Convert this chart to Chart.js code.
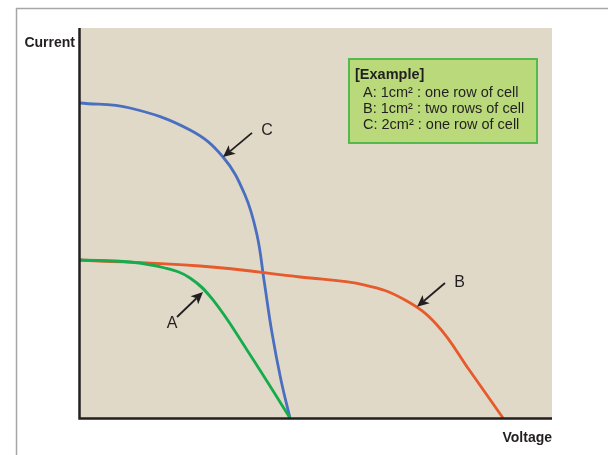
<!DOCTYPE html>
<html>
<head>
<meta charset="utf-8">
<script src="https://cdn.jsdelivr.net/npm/chart.js@4"></script>
<style>
  html, body { margin: 0; padding: 0; background: #ffffff; }
  #wrap { width: 608px; height: 455px; }
</style>
</head>
<body>
<div id="wrap"><canvas id="ivChart"></canvas></div>
<script>
// Curve data (voltage, current) in relative units 0..100
const curveA_x = [0, 10.59, 18.01, 23.31, 28.18, 35.38, 42.37, 44.49];
const curveA_y = [40.51, 40.00, 38.46, 35.90, 30.26, 17.44, 4.10, 0];

const curveB_x = [0, 25.42, 46.61, 60.38, 68.86, 75.64, 82.63, 89.62];
const curveB_y = [40.51, 38.97, 36.15, 34.10, 30.26, 23.85, 12.05, 0];

const curveC_x = [0, 10.59, 23.31, 30.30, 34.96, 37.50, 38.98, 40.68, 42.58, 44.49];
const curveC_y = [80.77, 79.49, 73.85, 66.92, 57.18, 46.92, 35.38, 21.79, 9.74, 0];

// Callout arrows: from point, tip point, label position
const arrowLabels = ['A', 'B', 'C'];
const arrowFrom = [[20.55, 25.9], [77.33, 34.6], [36.44, 73.1]];
const arrowTip = [[26.06, 32.3], [71.40, 28.5], [30.30, 66.9]];
const labelPos = [[18.4, 24.2], [79.3, 34.8], [38.4, 73.8]];

const legendTitle = '[Example]';
const legendLines = [
    'A: 1cm\u00B2 : one row of cell',
    'B: 1cm\u00B2 : two rows of cell',
    'C: 2cm\u00B2 : one row of cell'
];

const xTitle = 'Voltage';
const yTitle = 'Current';

const toPoints = (xs, ys) => xs.map((x, i) => ({ x: x, y: ys[i] }));

const FONT = '"Liberation Sans", Arial, Helvetica, sans-serif';

// Frame, plot background, axis lines, arrows, legend box
const decorPlugin = {
    id: 'decor',
    beforeDatasetsDraw(chart) {
        const { ctx, chartArea: a } = chart;
        ctx.save();
        ctx.fillStyle = '#e0d9c8';
        ctx.fillRect(a.left, a.top, a.right - a.left, a.bottom - a.top);

        // outer frame
        ctx.strokeStyle = '#a6a6a6';
        ctx.lineWidth = 1.5;
        ctx.beginPath();
        ctx.moveTo(16.5, 460);
        ctx.lineTo(16.5, 8.5);
        ctx.lineTo(610, 8.5);
        ctx.stroke();
        ctx.restore();
    },
    afterDatasetsDraw(chart) {
        const { ctx, chartArea: a, scales } = chart;
        ctx.save();

        // axis lines
        ctx.strokeStyle = '#231f20';
        ctx.lineWidth = 2.5;
        ctx.beginPath();
        ctx.moveTo(a.left - 0.5, a.top);
        ctx.lineTo(a.left - 0.5, a.bottom + 0.5);
        ctx.lineTo(a.right, a.bottom + 0.5);
        ctx.stroke();

        // axis titles
        ctx.fillStyle = '#231f20';
        ctx.font = 'bold 14px ' + FONT;
        ctx.textAlign = 'right';
        ctx.textBaseline = 'alphabetic';
        ctx.fillText(yTitle, a.left - 5, 47);
        ctx.fillText(xTitle, a.right, 442);

        // callout arrows
        ctx.lineWidth = 1.8;
        arrowLabels.forEach((lab, i) => {
            const x0 = scales.x.getPixelForValue(arrowFrom[i][0]);
            const y0 = scales.y.getPixelForValue(arrowFrom[i][1]);
            const x1 = scales.x.getPixelForValue(arrowTip[i][0]);
            const y1 = scales.y.getPixelForValue(arrowTip[i][1]);
            const ang = Math.atan2(y1 - y0, x1 - x0);
            const hl = 12, hw = 5.5;
            const bx = x1 - hl * Math.cos(ang), by = y1 - hl * Math.sin(ang);
            ctx.beginPath();
            ctx.moveTo(x0, y0);
            ctx.lineTo(bx + 3 * Math.cos(ang), by + 3 * Math.sin(ang));
            ctx.stroke();
            ctx.beginPath();
            ctx.moveTo(x1, y1);
            ctx.lineTo(bx - hw * Math.sin(ang), by + hw * Math.cos(ang));
            ctx.lineTo(bx + 3 * Math.cos(ang), by + 3 * Math.sin(ang));
            ctx.lineTo(bx + hw * Math.sin(ang), by - hw * Math.cos(ang));
            ctx.closePath();
            ctx.fill();

            ctx.font = '16px ' + FONT;
            ctx.textAlign = 'left';
            ctx.textBaseline = 'middle';
            ctx.fillText(lab, scales.x.getPixelForValue(labelPos[i][0]), scales.y.getPixelForValue(labelPos[i][1]));
        });

        // example box
        const bx = 349, by = 59, bw = 188, bh = 84;
        ctx.fillStyle = '#b9d97a';
        ctx.fillRect(bx, by, bw, bh);
        ctx.strokeStyle = '#55b94e';
        ctx.lineWidth = 2;
        ctx.strokeRect(bx, by, bw, bh);

        ctx.fillStyle = '#231f20';
        ctx.textAlign = 'left';
        ctx.textBaseline = 'alphabetic';
        ctx.font = 'bold 14.5px ' + FONT;
        ctx.fillText(legendTitle, 355, 79);
        ctx.font = '14.5px ' + FONT;
        legendLines.forEach((t, i) => ctx.fillText(t, 363, 97 + i * 16));

        ctx.restore();
    }
};

const lineStyle = (color) => ({
    borderColor: color,
    backgroundColor: color,
    borderWidth: 2.8,
    pointRadius: 0,
    fill: false,
    tension: 0.4
});

new Chart(document.getElementById('ivChart'), {
    type: 'line',
    data: {
        datasets: [
            Object.assign({ label: 'A', data: toPoints(curveA_x, curveA_y) }, lineStyle('#16ab4c')),
            Object.assign({ label: 'B', data: toPoints(curveB_x, curveB_y) }, lineStyle('#e65a2b')),
            Object.assign({ label: 'C', data: toPoints(curveC_x, curveC_y) }, lineStyle('#4a6ec0'))
        ]
    },
    options: {
        responsive: true,
        maintainAspectRatio: false,
        animation: false,
        clip: false,
        layout: { padding: { left: 80, right: 56, top: 28, bottom: 37 } },
        plugins: {
            legend: { display: false },
            tooltip: { enabled: false }
        },
        scales: {
            x: { type: 'linear', min: 0, max: 100, display: false },
            y: { type: 'linear', min: 0, max: 100, display: false }
        }
    },
    plugins: [decorPlugin]
});
</script>
</body>
</html>
